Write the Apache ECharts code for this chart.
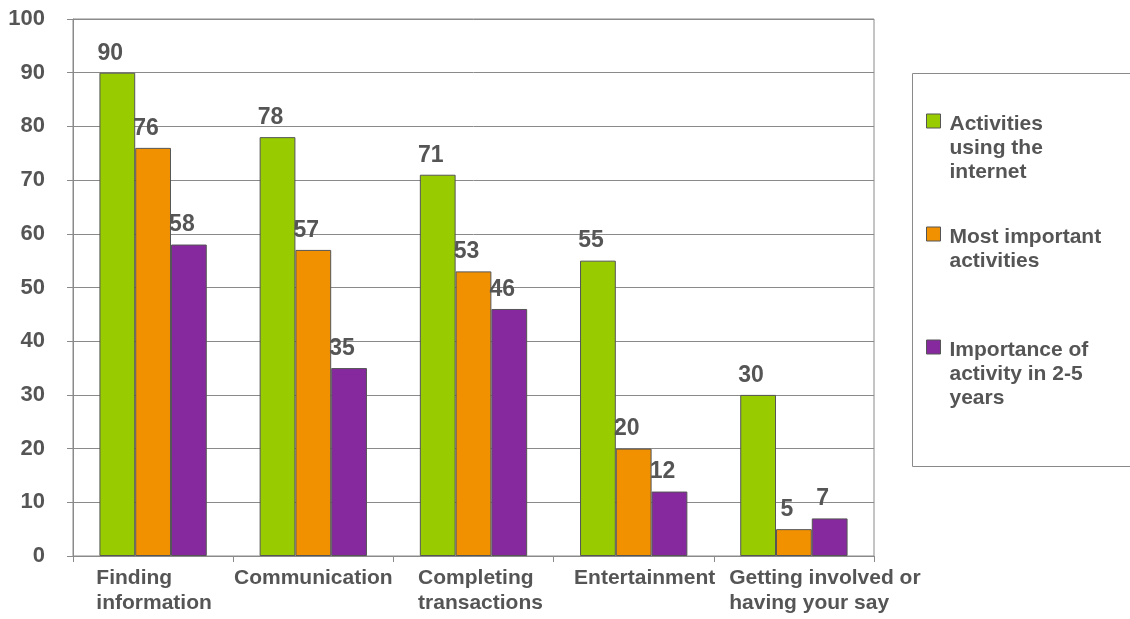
<!DOCTYPE html>
<html>
<head>
<meta charset="utf-8">
<script src="https://cdn.jsdelivr.net/npm/echarts@6/dist/echarts.min.js"></script>
<style>
  html, body { margin: 0; padding: 0; background: #fff; }
  #chart { width: 1130px; height: 619px; }
</style>
</head>
<body>
<div id="chart"></div>
<script>
// categories on the x axis
const categories = [
  'Finding\ninformation',
  'Communication',
  'Completing\ntransactions',
  'Entertainment',
  'Getting involved or\nhaving your say'
];

// series
const seriesNames = [
  'Activities\nusing the\ninternet',
  'Most important\nactivities',
  'Importance of\nactivity in 2-5\nyears'
];
const usingInternet = [90, 78, 71, 55, 30];
const mostImportant = [76, 57, 53, 20, 5];
const importanceFuture = [58, 35, 46, 12, 7];

const yTicks = [0, 10, 20, 30, 40, 50, 60, 70, 80, 90, 100];

const colors = ['#99CC00', '#F29100', '#86299F'];
const textColor = '#555';
const lineColor = '#8a8a8a';
// the original nudges some category labels to the right (px)
const labelNudge = [1, 0, 7, 11, 31];

const chart = echarts.init(document.getElementById('chart'));

const makeSeries = (name, data) => ({
  name: name,
  type: 'bar',
  data: data,
  barGap: '0%',
  barCategoryGap: '33%',
  itemStyle: { borderColor: '#555', borderWidth: 1 },
  label: {
    show: true,
    position: 'top',
    distance: 8,
    offset: [-7, 0],
    fontSize: 23,
    fontWeight: 'bold',
    color: textColor
  }
});

const xRich = {};
labelNudge.forEach((n, i) => {
  xRich['c' + i] = {
    align: 'left', fontSize: 21, fontWeight: 'bold', color: textColor,
    lineHeight: 25, padding: [0, 0, 0, n * 2]
  };
});

// legend text is centred on the icon, so blank lines are put on top
// to bring the first line level with the icon (sized to sit ~3px lower)
const legendFormatter = name => {
  const lines = name.split('\n');
  const gap = '{g' + (lines.length - 1) + '| }';
  const blanks = new Array(lines.length - 1).fill(gap);
  return blanks.concat(lines.map(s => '{t|' + s + '}')).join('\n');
};

chart.setOption({
  animation: false,
  color: colors,
  textStyle: { fontFamily: '"Liberation Sans", Arial, sans-serif' },
  grid: {
    left: 73, top: 19, right: 256, bottom: 63,
    show: true, borderColor: lineColor, borderWidth: 1
  },
  legend: {
    orient: 'vertical',
    left: 926,
    top: 58,
    padding: 0,
    itemGap: 11,
    itemWidth: 14,
    itemHeight: 14,
    icon: 'rect',
    selectedMode: false,
    itemStyle: { borderColor: '#555', borderWidth: 1 },
    formatter: legendFormatter,
    textStyle: {
      padding: [0, 0, 0, 4],
      backgroundColor: 'rgba(0,0,0,0)',
      rich: {
        t: { fontSize: 21, fontWeight: 'bold', color: textColor, lineHeight: 24 },
        g1: { fontSize: 21, lineHeight: 30 },
        g2: { fontSize: 21, lineHeight: 27 }
      }
    }
  },
  graphic: [{
    type: 'rect',
    shape: { x: 912.5, y: 73.5, width: 240, height: 393 },
    style: { fill: 'none', stroke: lineColor, lineWidth: 1 },
    silent: true
  }],
  xAxis: {
    type: 'category',
    data: categories,
    axisLine: { lineStyle: { color: lineColor } },
    axisTick: { show: true, length: 6, lineStyle: { color: lineColor } },
    axisLabel: {
      interval: 0,
      margin: 10,
      formatter: (v, i) => v.split('\n').map(s => '{c' + i + '|' + s + '}').join('\n'),
      rich: xRich
    }
  },
  yAxis: {
    type: 'value',
    min: yTicks[0],
    max: yTicks[yTicks.length - 1],
    interval: yTicks[1] - yTicks[0],
    axisLine: { show: true, lineStyle: { color: lineColor } },
    axisTick: { show: true, length: 6, lineStyle: { color: lineColor } },
    splitLine: { lineStyle: { color: lineColor } },
    axisLabel: { margin: 28, fontSize: 22, fontWeight: 'bold', color: textColor }
  },
  series: [
    makeSeries(seriesNames[0], usingInternet),
    makeSeries(seriesNames[1], mostImportant),
    makeSeries(seriesNames[2], importanceFuture)
  ]
});

window.addEventListener('resize', () => chart.resize());
</script>
</body>
</html>
